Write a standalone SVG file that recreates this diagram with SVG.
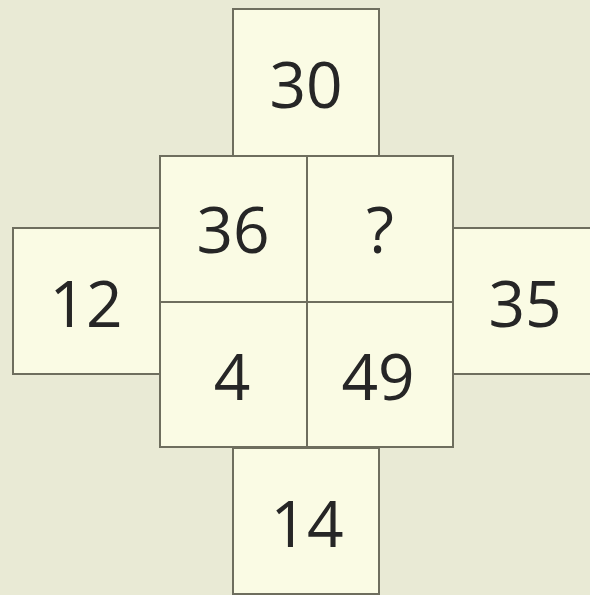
<svg xmlns="http://www.w3.org/2000/svg" width="590" height="595" viewBox="0 0 590 595">
<style>
.box{fill:#fafbe4;stroke:#6e6e5e;stroke-width:2}
.t{font-family:"Open Sans","Noto Sans",sans-serif;font-size:64px;fill:#262626;text-anchor:middle}
</style>
<rect width="590" height="595" fill="#e9eAd5"/>
<g id="top"><rect class="box" x="233" y="9" width="146" height="147"/><text class="t" x="306" y="108">30</text></g>
<g id="left"><rect class="box" x="13" y="228" width="147" height="146"/><text class="t" x="86" y="327">12</text></g>
<g id="right"><rect class="box" x="453" y="228" width="150" height="146"/><text class="t" x="525" y="327">35</text></g>
<g id="bottom"><rect class="box" x="233" y="448" width="146" height="146"/><text class="t" x="307" y="547">14</text></g>
<g id="tl"><rect class="box" x="160" y="156" width="147" height="146"/><text class="t" x="233" y="253">36</text></g>
<g id="tr"><rect class="box" x="307" y="156" width="146" height="146"/><text class="t" x="380" y="253">?</text></g>
<g id="bl"><rect class="box" x="160" y="302" width="147" height="145"/><text class="t" x="232" y="400">4</text></g>
<g id="br"><rect class="box" x="307" y="302" width="146" height="145"/><text class="t" x="378" y="400">49</text></g>
</svg>
